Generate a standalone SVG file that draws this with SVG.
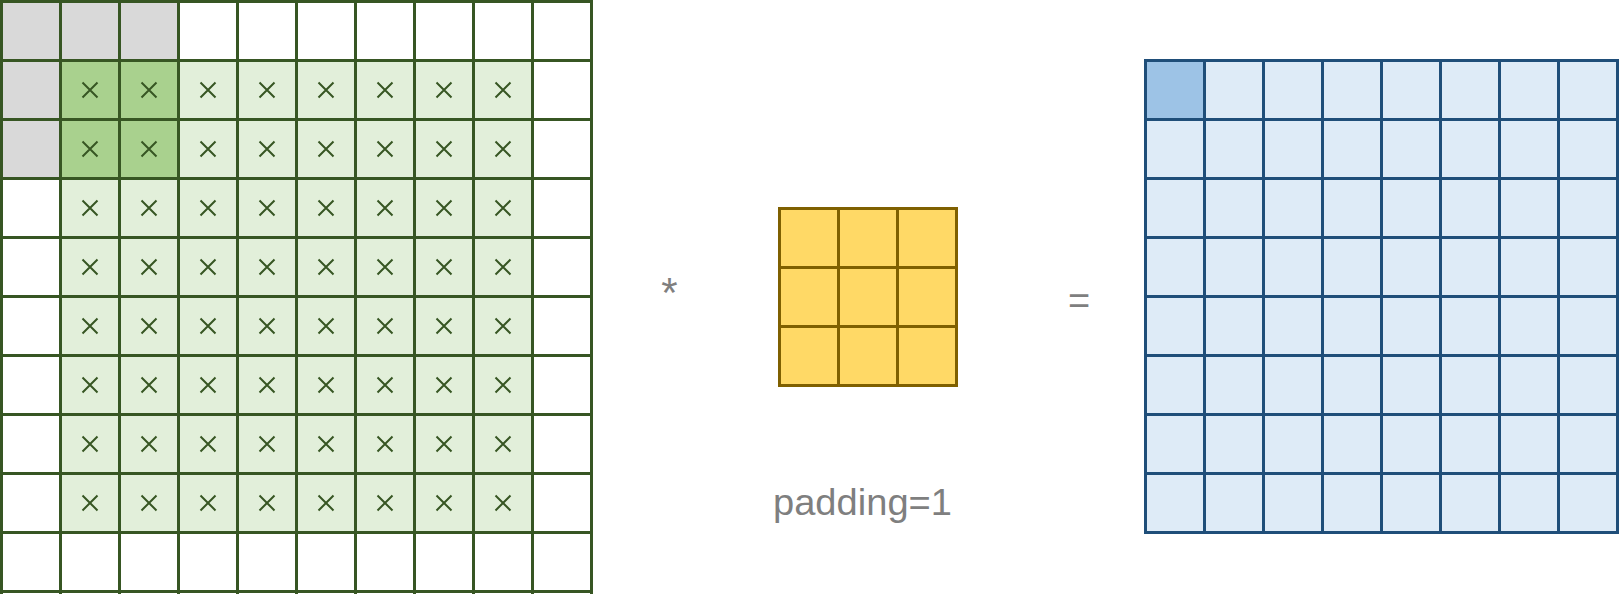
<svg xmlns="http://www.w3.org/2000/svg" xmlns:xlink="http://www.w3.org/1999/xlink" width="1620" height="594" viewBox="0 0 1620 594">
<style>
.gl{fill:none;stroke:#375623;stroke-width:3}
.kl{fill:none;stroke:#7f6000;stroke-width:3}
.ol{fill:none;stroke:#1f4e79;stroke-width:3}
.lbl{font-family:"Liberation Sans",Arial,sans-serif;fill:#7f7f7f}
</style>
<defs>
<path id="x" d="M-7.5,-7.5L7.5,7.5M7.5,-7.5L-7.5,7.5" fill="none" stroke="#375623" stroke-width="2"/>
</defs>
<rect width="1620" height="594" fill="#fff"/>
<g id="input">
<rect x="1.5" y="1.5" width="590" height="590" fill="#fff"/>
<rect x="1.5" y="1.5" width="177" height="59" fill="#d9d9d9"/>
<rect x="1.5" y="60.5" width="59" height="118" fill="#d9d9d9"/>
<rect x="60.5" y="60.5" width="472" height="472" fill="#e2efda"/>
<rect x="60.5" y="60.5" width="118" height="118" fill="#a9d18e"/>
<g>
<use xlink:href="#x" x="90" y="90"/><use xlink:href="#x" x="149" y="90"/><use xlink:href="#x" x="208" y="90"/><use xlink:href="#x" x="267" y="90"/><use xlink:href="#x" x="326" y="90"/><use xlink:href="#x" x="385" y="90"/><use xlink:href="#x" x="444" y="90"/><use xlink:href="#x" x="503" y="90"/>
<use xlink:href="#x" x="90" y="149"/><use xlink:href="#x" x="149" y="149"/><use xlink:href="#x" x="208" y="149"/><use xlink:href="#x" x="267" y="149"/><use xlink:href="#x" x="326" y="149"/><use xlink:href="#x" x="385" y="149"/><use xlink:href="#x" x="444" y="149"/><use xlink:href="#x" x="503" y="149"/>
<use xlink:href="#x" x="90" y="208"/><use xlink:href="#x" x="149" y="208"/><use xlink:href="#x" x="208" y="208"/><use xlink:href="#x" x="267" y="208"/><use xlink:href="#x" x="326" y="208"/><use xlink:href="#x" x="385" y="208"/><use xlink:href="#x" x="444" y="208"/><use xlink:href="#x" x="503" y="208"/>
<use xlink:href="#x" x="90" y="267"/><use xlink:href="#x" x="149" y="267"/><use xlink:href="#x" x="208" y="267"/><use xlink:href="#x" x="267" y="267"/><use xlink:href="#x" x="326" y="267"/><use xlink:href="#x" x="385" y="267"/><use xlink:href="#x" x="444" y="267"/><use xlink:href="#x" x="503" y="267"/>
<use xlink:href="#x" x="90" y="326"/><use xlink:href="#x" x="149" y="326"/><use xlink:href="#x" x="208" y="326"/><use xlink:href="#x" x="267" y="326"/><use xlink:href="#x" x="326" y="326"/><use xlink:href="#x" x="385" y="326"/><use xlink:href="#x" x="444" y="326"/><use xlink:href="#x" x="503" y="326"/>
<use xlink:href="#x" x="90" y="385"/><use xlink:href="#x" x="149" y="385"/><use xlink:href="#x" x="208" y="385"/><use xlink:href="#x" x="267" y="385"/><use xlink:href="#x" x="326" y="385"/><use xlink:href="#x" x="385" y="385"/><use xlink:href="#x" x="444" y="385"/><use xlink:href="#x" x="503" y="385"/>
<use xlink:href="#x" x="90" y="444"/><use xlink:href="#x" x="149" y="444"/><use xlink:href="#x" x="208" y="444"/><use xlink:href="#x" x="267" y="444"/><use xlink:href="#x" x="326" y="444"/><use xlink:href="#x" x="385" y="444"/><use xlink:href="#x" x="444" y="444"/><use xlink:href="#x" x="503" y="444"/>
<use xlink:href="#x" x="90" y="503"/><use xlink:href="#x" x="149" y="503"/><use xlink:href="#x" x="208" y="503"/><use xlink:href="#x" x="267" y="503"/><use xlink:href="#x" x="326" y="503"/><use xlink:href="#x" x="385" y="503"/><use xlink:href="#x" x="444" y="503"/><use xlink:href="#x" x="503" y="503"/>
</g>
<path class="gl" d="M1.5,0V594M60.5,0V594M119.5,0V594M178.5,0V594M237.5,0V594M296.5,0V594M355.5,0V594M414.5,0V594M473.5,0V594M532.5,0V594M591.5,0V594M0,1.5H593M0,60.5H593M0,119.5H593M0,178.5H593M0,237.5H593M0,296.5H593M0,355.5H593M0,414.5H593M0,473.5H593M0,532.5H593M0,591.5H593"/>
</g>
<g id="kernel">
<rect x="779.5" y="208.5" width="177" height="177" fill="#ffd966"/>
<path class="kl" d="M779.5,207V387M838.5,207V387M897.5,207V387M956.5,207V387M778,208.5H958M778,267.5H958M778,326.5H958M778,385.5H958"/>
</g>
<g id="output">
<rect x="1145.5" y="60.5" width="472" height="472" fill="#deebf7"/>
<rect x="1145.5" y="60.5" width="59" height="59" fill="#9dc3e6"/>
<path class="ol" d="M1145.5,59V534M1204.5,59V534M1263.5,59V534M1322.5,59V534M1381.5,59V534M1440.5,59V534M1499.5,59V534M1558.5,59V534M1617.5,59V534M1144,60.5H1619M1144,119.5H1619M1144,178.5H1619M1144,237.5H1619M1144,296.5H1619M1144,355.5H1619M1144,414.5H1619M1144,473.5H1619M1144,532.5H1619"/>
</g>
<g id="labels">
<text class="lbl" x="669.5" y="307" font-size="42" text-anchor="middle">*</text>
<text class="lbl" x="1079" y="314" font-size="38" text-anchor="middle">=</text>
<text class="lbl" x="773" y="515" font-size="37" textLength="179" lengthAdjust="spacingAndGlyphs">padding=1</text>
</g>
</svg>
